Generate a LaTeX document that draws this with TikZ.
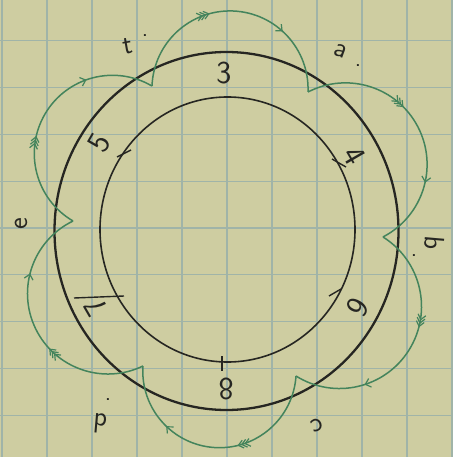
\documentclass[tikz,border=0pt]{standalone}
\usetikzlibrary{decorations.markings}
\definecolor{paper}{RGB}{206,205,161}
\definecolor{gridc}{RGB}{160,180,168}
\definecolor{ink}{RGB}{38,38,34}
\definecolor{petal}{RGB}{68,132,92}
\begin{document}
\begin{tikzpicture}[x=1pt,y=-1pt,
  gridline/.style={gridc,line width=1.1pt},
  outerc/.style={ink,line width=2.3pt},
  innerc/.style={ink,line width=1.6pt},
  tickline/.style={ink,line width=1.4pt},
  numlab/.style={text=ink,font=\sffamily\fontsize{32}{32}\selectfont,inner sep=0pt},
  letlab/.style={text=ink,font=\sffamily\fontsize{28}{28}\selectfont,inner sep=0pt},
  dotlab/.style={text=ink,font=\sffamily\fontsize{24}{24}\selectfont,inner sep=0pt},
  chev/.style={petal,line width=1.2pt},
  petalline/.style={petal,line width=1.5pt,postaction={decorate},
    decoration={markings,
      mark=at position 0.4 with {
        \draw[chev] (-5pt,4pt) -- (0pt,0pt) -- (-5pt,-4pt);
        \draw[chev] (-8.5pt,4pt) -- (-3.5pt,0pt) -- (-8.5pt,-4pt);
        \draw[chev] (-12pt,4pt) -- (-7pt,0pt) -- (-12pt,-4pt);},
      mark=at position 0.72 with {
        \draw[chev] (-5pt,4.5pt) -- (0pt,0pt) -- (-5pt,-4.5pt);}}}]
% paper and grid
\fill[paper] (0,0) rectangle (453,457);
\useasboundingbox (0,0) rectangle (453,457);
\foreach \gx in {2,47,...,452} \draw[gridline] (\gx,0) -- (\gx,457);
\foreach \gy in {40.8,87.6,...,416} \draw[gridline] (0,\gy) -- (453,\gy);
% circles
\draw[innerc] (227.5,229.5) ellipse [x radius=127.5, y radius=132.5];
\draw[outerc] (226.5,231) ellipse [x radius=172, y radius=179];
% petals (clockwise)
\draw[petalline] (152,86) arc[start angle=182.2,end angle=362.2,radius=78.06];
\draw[petalline] (308,92) arc[start angle=242.65,end angle=422.65,radius=81.6];
\draw[petalline] (383,237) arc[start angle=302.04,end angle=482.04,radius=82.0];
\draw[petalline] (296,376) arc[start angle=3.74,end angle=183.74,radius=76.7];
\draw[petalline] (143,366) arc[start angle=64.23,end angle=244.23,radius=80.5];
\draw[petalline] (73,221) arc[start angle=120.33,end angle=300.33,radius=78.2];
% ticks on inner circle
\draw[tickline] (222,356) -- (222,371);
\draw[tickline] (332,159) -- (346,167);
\draw[tickline] (329,296) -- (341,289);
\draw[tickline] (74,298) -- (124,296);
\draw[tickline] (117,157) -- (131,150);
% numbers
\node[numlab] (n3) at (224,73) {3};
\node[numlab,rotate=-60] (n4) at (354,156) {4};
\node[numlab,rotate=-120] (n6) at (358,307) {6};
\node[numlab,rotate=180] (n8) at (226,389) {8};
\node[numlab,rotate=120] (n7) at (96,307) {7};
\node[numlab,rotate=60] (n5) at (99,143) {5};
% letters
\node[letlab,rotate=10] (lt) at (128,46) {t};
\node[dotlab] (dt) at (145,36) {.};
\node[letlab,rotate=-20] (la) at (341,51) {a};
\node[dotlab] (da) at (358,66) {.};
\node[letlab,rotate=-95] (lb) at (434,243) {b};
\node[dotlab] (db) at (414,256) {.};
\node[letlab,rotate=-160] (lc) at (317,425) {c};
\node[letlab,rotate=175] (ld) at (100,423) {d};
\node[dotlab] (dd) at (108,400) {.};
\node[letlab,rotate=90] (le) at (21,224) {e};
\end{tikzpicture}
\end{document}
